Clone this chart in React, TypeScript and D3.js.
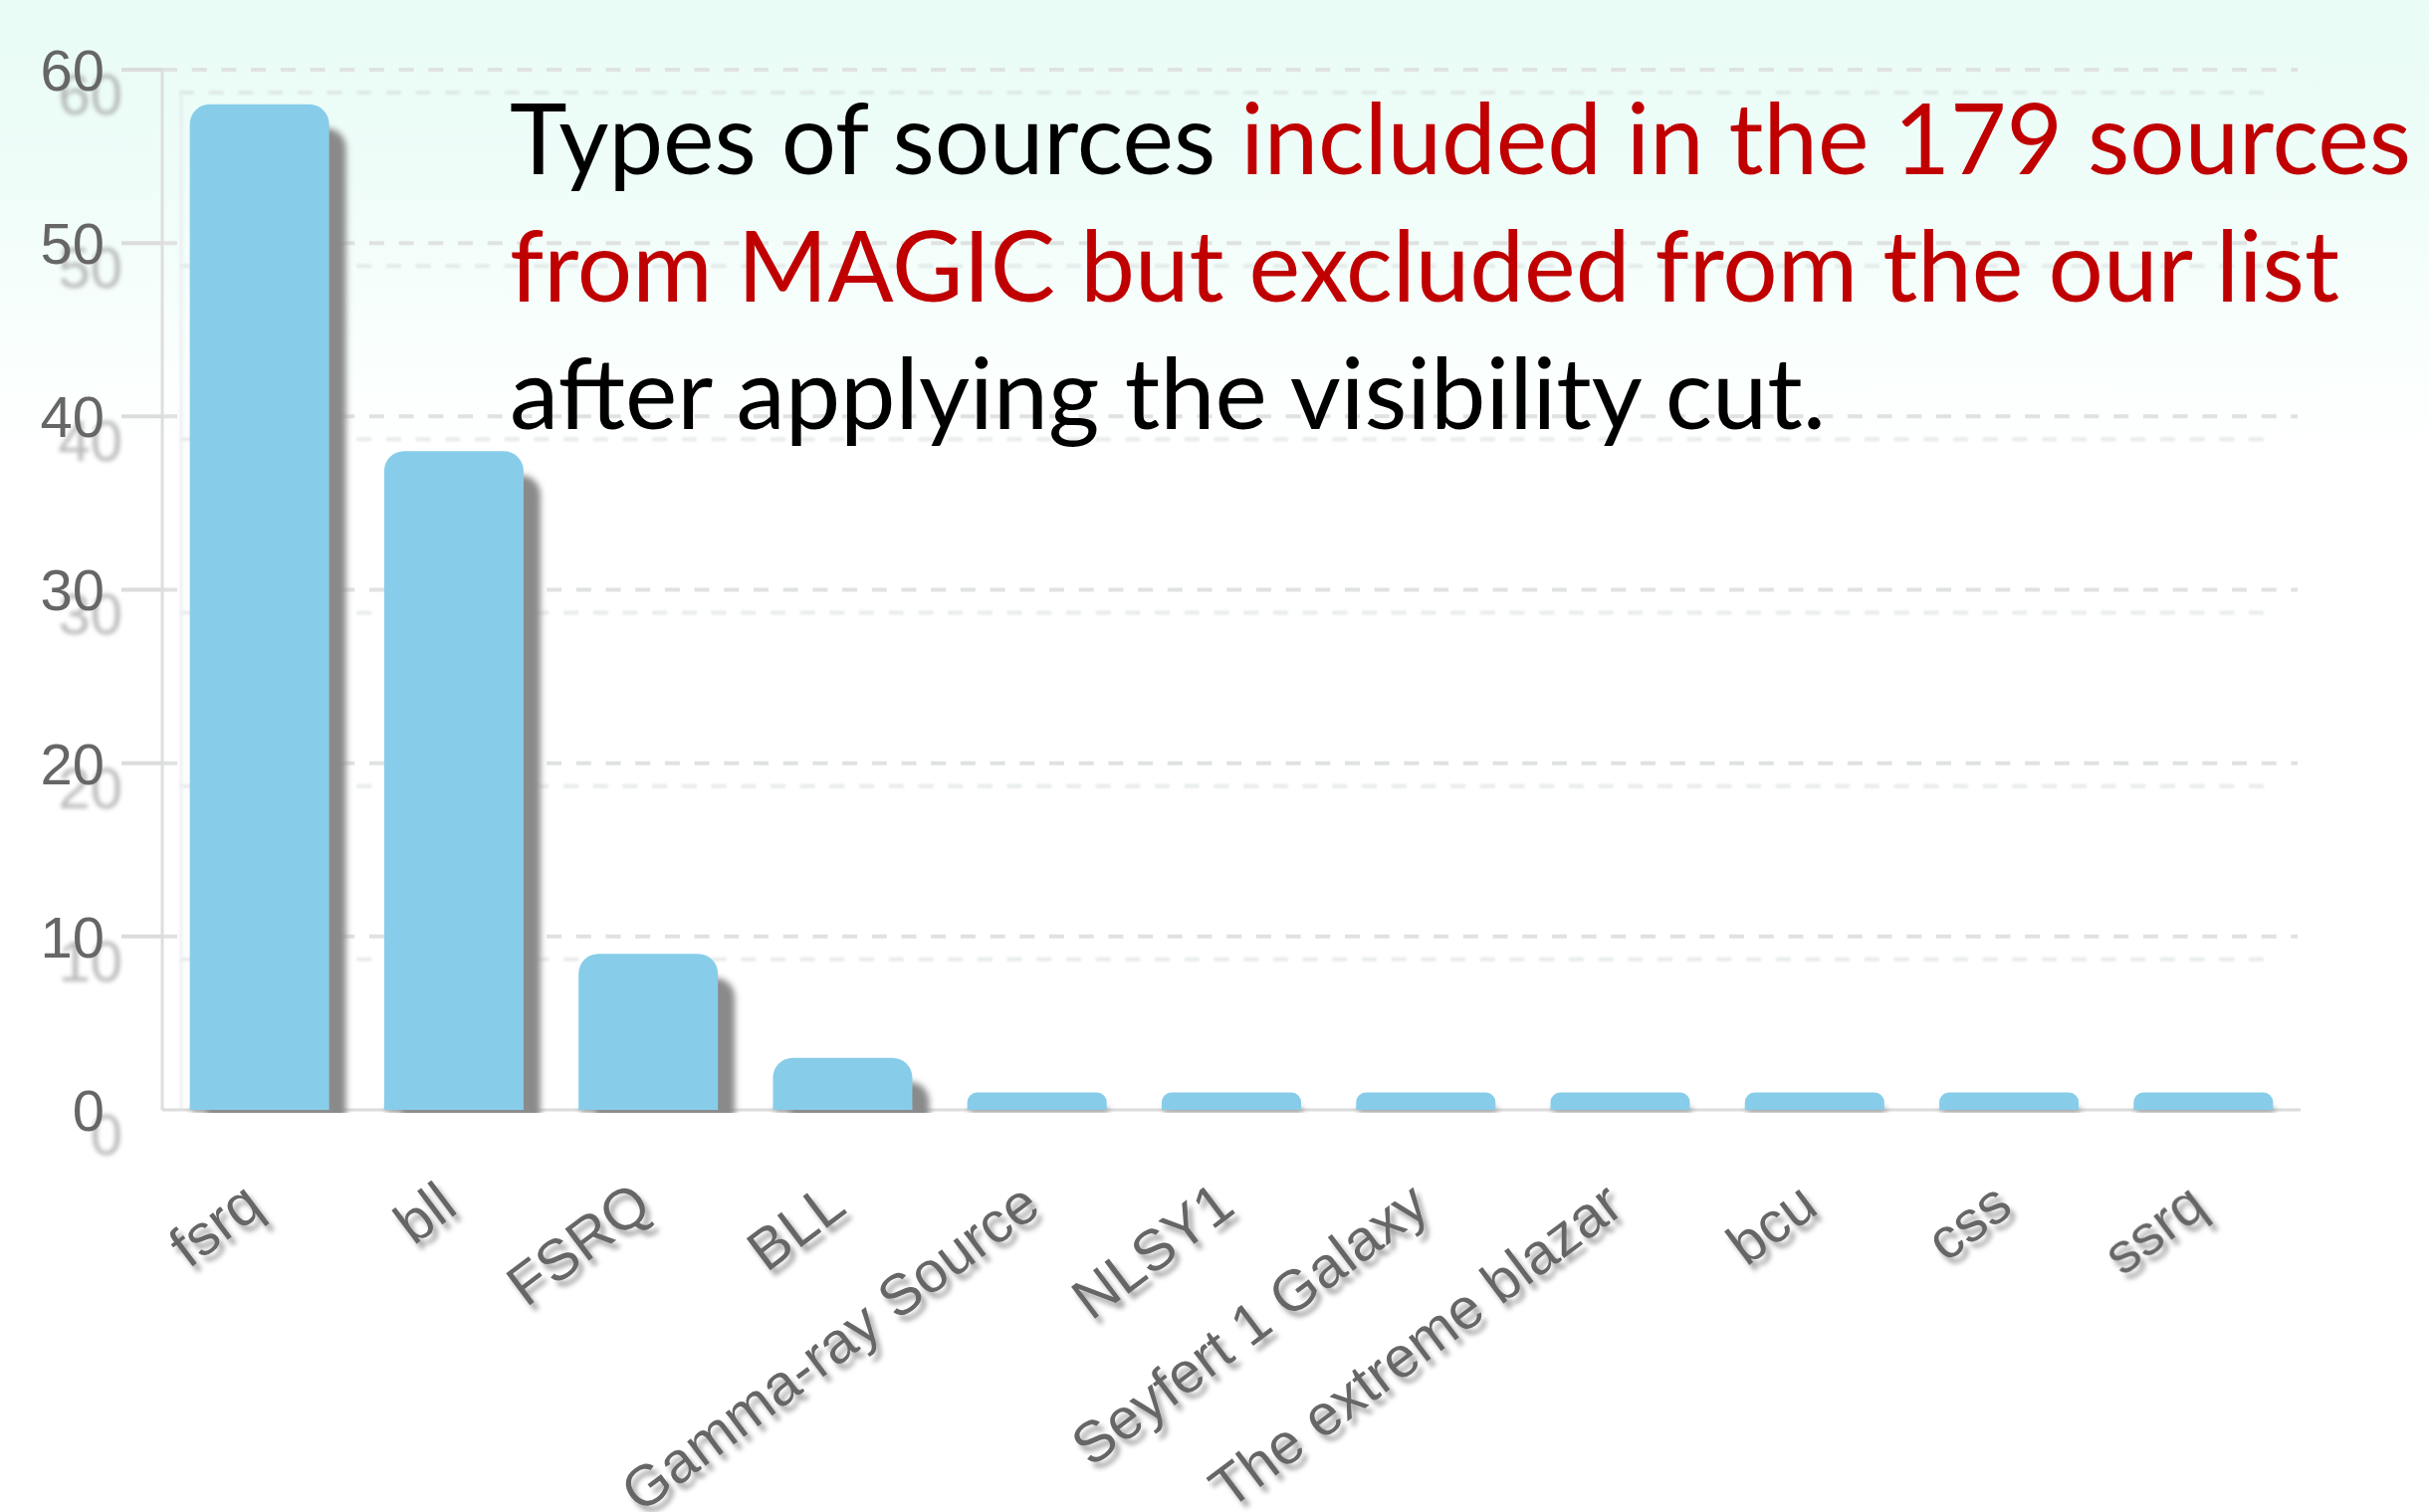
import React from "react";
import * as d3 from "d3";

// Source types and their counts
const categories = [
  "fsrq",
  "bll",
  "FSRQ",
  "BLL",
  "Gamma-ray Source",
  "NLSY1",
  "Seyfert 1 Galaxy",
  "The extreme blazar",
  "bcu",
  "css",
  "ssrq",
];
const counts = [58, 38, 9, 3, 1, 1, 1, 1, 1, 1, 1];
const yTicks = [0, 10, 20, 30, 40, 50, 60];

const titleLine1Black = "Types of sources ";
const titleLine1Red = "included in the 179 sources";
const titleLine2 = "from MAGIC but excluded from the our list";
const titleLine3 = "after applying the visibility cut.";

const W = 2440;
const H = 1519;
const plotLeft = 163;
const plotRight = 2311;
const plotTop = 70;
const plotBottom = 1115;

const LABEL_FONT = "'Liberation Sans', Arial, Helvetica, sans-serif";
const TITLE_FONT = "Lato, 'Open Sans', sans-serif";
const RED = "#c00000";
const BAR = "#87cdea";

function topRoundedBar(x: number, top: number, w: number, bottom: number, r: number) {
  const p = d3.path();
  p.moveTo(x, bottom);
  p.lineTo(x, top + r);
  p.arcTo(x, top, x + r, top, r);
  p.lineTo(x + w - r, top);
  p.arcTo(x + w, top, x + w, top + r, r);
  p.lineTo(x + w, bottom);
  p.closePath();
  return p.toString();
}

export default function App() {
  const x = d3
    .scaleBand<string>()
    .domain(categories)
    .range([plotLeft, plotRight])
    .paddingInner(0.283)
    .paddingOuter(0.1415);
  const y = d3.scaleLinear().domain([0, 60]).range([plotBottom, plotTop]);
  const bw = x.bandwidth();

  const sdx = 17;
  const sdy = 24;

  return (
    <svg
      width={W}
      height={H}
      viewBox={`0 0 ${W} ${H}`}
      style={{ position: "absolute", left: 0, top: 0, display: "block" }}
    >
      <defs>
        <linearGradient id="bg" x1="0" y1="0" x2="0" y2={H} gradientUnits="userSpaceOnUse">
          <stop offset="0" stopColor="#e9fcf6" />
          <stop offset="0.12" stopColor="#effdf9" />
          <stop offset="0.24" stopColor="#fafffd" />
          <stop offset="0.3" stopColor="#ffffff" />
          <stop offset="1" stopColor="#ffffff" />
        </linearGradient>
        <filter id="blur3" filterUnits="userSpaceOnUse" x="0" y="0" width={W} height={H}>
          <feGaussianBlur stdDeviation="3" />
        </filter>
        <filter id="blur2" filterUnits="userSpaceOnUse" x="0" y="0" width={W} height={H}>
          <feGaussianBlur stdDeviation="2" />
        </filter>
        <filter id="blur1" filterUnits="userSpaceOnUse" x="0" y="0" width={W} height={H}>
          <feGaussianBlur stdDeviation="1.2" />
        </filter>
        <filter id="labelShadow" filterUnits="userSpaceOnUse" x="0" y="0" width={W} height={H}>
          <feDropShadow dx="5" dy="6" stdDeviation="2.5" floodColor="#000" floodOpacity="0.35" />
        </filter>
        <clipPath id="shadowClip">
          <rect x="0" y="0" width={W} height={plotBottom + 3} />
        </clipPath>
      </defs>

      <rect x="0" y="0" width={W} height={H} fill="url(#bg)" />

      {/* faint offset copy of the grid */}
      <g filter="url(#blur1)" opacity="0.55">
        {yTicks
          .filter((t) => t > 0)
          .map((t) => (
            <line
              key={`gs${t}`}
              x1={plotLeft + sdx}
              x2={plotRight - 26}
              y1={y(t) + sdy - 1}
              y2={y(t) + sdy - 1}
              stroke="#d6dcdb"
              strokeWidth={4}
              strokeDasharray="15 14.7"
            />
          ))}
        <line x1={plotLeft + 19} x2={plotLeft + 19} y1={plotTop + sdy} y2={plotBottom} stroke="#e2e4e4" strokeWidth={3} />
      </g>

      {/* grid lines and ticks */}
      <g>
        {yTicks
          .filter((t) => t > 0)
          .map((t) => (
            <g key={`g${t}`}>
              <line
                x1={plotLeft}
                x2={plotRight - 3}
                y1={y(t)}
                y2={y(t)}
                stroke="#e0e2e2"
                strokeWidth={4}
                strokeDasharray="15 14.7"
              />
              <line x1={plotLeft - 41} x2={plotLeft} y1={y(t)} y2={y(t)} stroke="#dcdcdc" strokeWidth={4} />
            </g>
          ))}
        <line x1={plotLeft} x2={plotLeft} y1={plotTop} y2={plotBottom} stroke="#dedede" strokeWidth={3} />
        <line x1={plotLeft} x2={plotRight} y1={plotBottom} y2={plotBottom} stroke="#dcdcdc" strokeWidth={3} />
      </g>

      {/* bar shadows */}
      <g clipPath="url(#shadowClip)">
        <g filter="url(#blur3)">
          {counts.map((v, i) => {
            const bx = (x(categories[i]) as number) + sdx;
            const top = y(v) + sdy;
            const r = Math.min(20, (plotBottom - y(v)) * 0.55);
            if (top >= plotBottom + 3) return null;
            return (
              <path
                key={`bs${i}`}
                d={topRoundedBar(bx, top, bw, plotBottom + 30, r)}
                fill="#8a8a8a"
              />
            );
          })}
          {counts.map((v, i) => (
            <rect
              key={`bb${i}`}
              x={(x(categories[i]) as number) + 2}
              y={plotBottom - 2}
              width={bw}
              height={5}
              fill="#8f8f8f"
            />
          ))}
        </g>
      </g>

      {/* bars */}
      <g>
        {counts.map((v, i) => {
          const bx = x(categories[i]) as number;
          const r = Math.min(20, (plotBottom - y(v)) * 0.55);
          return (
            <path key={`b${i}`} d={topRoundedBar(bx, y(v), bw, plotBottom, r)} fill={BAR} />
          );
        })}
      </g>

      {/* y-axis labels with their offset shadow */}
      <g filter="url(#blur2)">
        {yTicks.map((t) => (
          <text
            key={`ys${t}`}
            x={105 + 18}
            y={y(t) + sdy}
            dy="0.36em"
            textAnchor="end"
            fontFamily={LABEL_FONT}
            fontSize={58}
            fill="#a4a4a4"
            opacity={0.75}
          >
            {t}
          </text>
        ))}
      </g>
      <g>
        {yTicks.map((t) => (
          <text
            key={`y${t}`}
            x={105}
            y={y(t)}
            dy="0.36em"
            textAnchor="end"
            fontFamily={LABEL_FONT}
            fontSize={58}
            fill="#666666"
          >
            {t}
          </text>
        ))}
      </g>

      {/* x-axis category labels */}
      <g filter="url(#labelShadow)">
        {categories.map((c) => {
          const ax = (x(c) as number) + bw / 2 + 6;
          const ay = 1217;
          return (
            <text
              key={`x${c}`}
              x={ax}
              y={ay}
              transform={`rotate(-37 ${ax} ${ay})`}
              textAnchor="end"
              fontFamily={LABEL_FONT}
              fontSize={58}
              fill="#666666"
            >
              {c}
            </text>
          );
        })}
      </g>

      {/* title text */}
      <g fontFamily={TITLE_FONT} fontSize={99}>
        <text x={512} y={175} textLength={1910} lengthAdjust="spacingAndGlyphs">
          <tspan fill="#000000">{titleLine1Black}</tspan>
          <tspan fill={RED}>{titleLine1Red}</tspan>
        </text>
        <text x={512} y={303} fill={RED} textLength={1838} lengthAdjust="spacingAndGlyphs">
          {titleLine2}
        </text>
        <text x={512} y={431} fill="#000000" textLength={1322} lengthAdjust="spacingAndGlyphs">
          {titleLine3}
        </text>
      </g>
    </svg>
  );
}
